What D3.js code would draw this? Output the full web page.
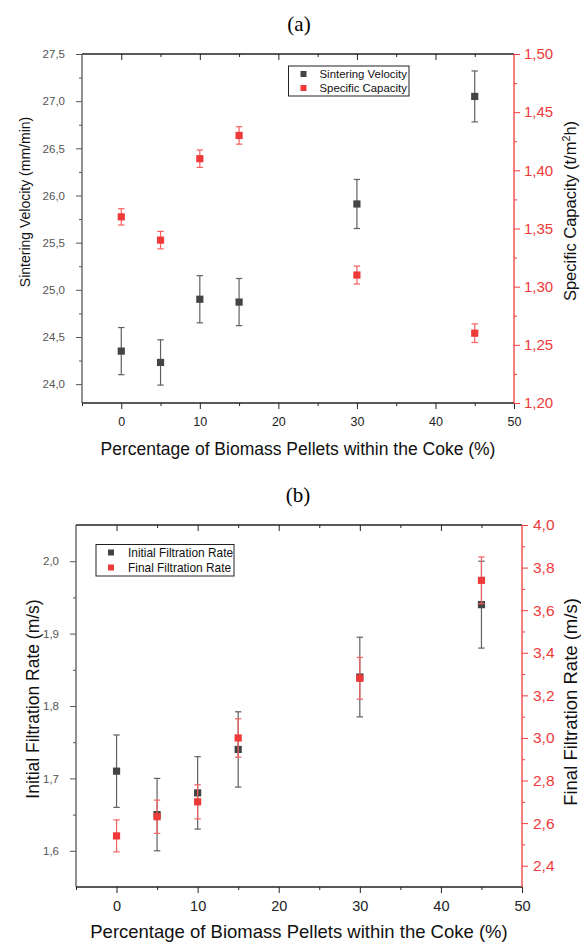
<!DOCTYPE html>
<html>
<head>
<meta charset="utf-8">
<script src="https://cdn.jsdelivr.net/npm/d3@7"></script>
<style>
  body { margin: 0; background: #fff; }
  svg { display: block; font-family: "Liberation Sans", Arial, sans-serif; }
</style>
</head>
<body>
<svg id="chart" width="581" height="943"></svg>
<script>
// Data
var pellets = [0, 5, 10, 15, 30, 45]

var sinterVel = [24.35, 24.23, 24.90, 24.87, 25.91, 27.05]
var sinterVelErr = [0.25, 0.24, 0.25, 0.25, 0.26, 0.27]
var specCap = [1.36, 1.34, 1.41, 1.43, 1.31, 1.26]
var specCapErr = [0.007, 0.0075, 0.0075, 0.0075, 0.0077, 0.008]

var initRate = [1.71, 1.65, 1.68, 1.74, 1.84, 1.94]
var initRateErr = [0.05, 0.05, 0.05, 0.052, 0.055, 0.06]
var finalRate = [2.54, 2.63, 2.70, 3.00, 3.28, 3.74]
var finalRateErr = [0.075, 0.078, 0.08, 0.09, 0.098, 0.11]

var xMajor = [0, 10, 20, 30, 40, 50]
var xMinor = [-5, 5, 15, 25, 35, 45]
var velTicks = [24.0, 24.5, 25.0, 25.5, 26.0, 26.5, 27.0, 27.5]
var capTicks = [1.20, 1.25, 1.30, 1.35, 1.40, 1.45, 1.50]
var initTicks = [1.6, 1.7, 1.8, 1.9, 2.0]
var finalTicks = [2.4, 2.6, 2.8, 3.0, 3.2, 3.4, 3.6, 3.8, 4.0]

var xTitle = "Percentage of Biomass Pellets within the Coke (%)"

// colours
var dark = "#444444"
var darkErr = "#606060"
var red = "#ef3a3a"
var redErr = "#f56060"
var redAxis = "#f23c3c"

var svg = d3.select("#chart")

function comma(fmt) {
  var f = d3.format(fmt)
  return function(d) { return f(d).replace(".", ",") }
}

function minorsBetween(ticks, n) {
  var out = []
  for (var i = 0; i < ticks.length - 1; i++) {
    var step = (ticks[i + 1] - ticks[i]) / n
    for (var k = 1; k < n; k++) out.push(ticks[i] + k * step)
  }
  return out
}

function drawPanel(p) {
  var g = svg.append("g")
  var x = d3.scaleLinear().domain([-5, 50]).range([p.left, p.right])
  var yL = d3.scaleLinear().domain(p.yLDomain).range([p.bottom, p.top])
  var yR = d3.scaleLinear().domain(p.yRDomain).range([p.bottom, p.top])

  // panel title
  g.append("text")
    .attr("x", p.titleX).attr("y", p.titleY)
    .attr("text-anchor", "middle")
    .style("font-family", "'Liberation Serif', 'Times New Roman', serif")
    .style("font-size", "21px")
    .text(p.title)

  // top frame with inward ticks
  var topAx = g.append("g").attr("transform", "translate(0," + p.top + ")")
  topAx.call(d3.axisTop(x).tickValues(xMajor.slice(0, 5)).tickSize(-6).tickFormat(""))
  topAx.append("g").call(d3.axisTop(x).tickValues(xMinor.slice(1)).tickSize(-3).tickFormat(""))
  topAx.selectAll("path").remove()
  topAx.selectAll("line").attr("stroke", "#222")
  g.append("line")
    .attr("x1", p.left).attr("x2", p.right)
    .attr("y1", p.top).attr("y2", p.top)
    .attr("stroke", "#222").attr("stroke-width", 1.3)

  // bottom axis
  var bot = g.append("g").attr("transform", "translate(0," + p.bottom + ")")
  bot.call(d3.axisBottom(x).tickValues(xMajor).tickSize(6).tickPadding(p.xPad).tickFormat(d3.format("d")))
  bot.append("g").call(d3.axisBottom(x).tickValues(xMinor).tickSize(3).tickFormat(""))
  bot.selectAll("path").remove()
  bot.selectAll("line").attr("stroke", "#222")
  bot.selectAll("text").style("font-size", p.xFont + "px").attr("fill", "#222")
  g.append("line")
    .attr("x1", p.left).attr("x2", p.right)
    .attr("y1", p.bottom).attr("y2", p.bottom)
    .attr("stroke", "#222").attr("stroke-width", 1.3)

  // left axis
  var la = g.append("g").attr("transform", "translate(" + p.left + ",0)")
  la.call(d3.axisLeft(yL).tickValues(p.yLTicks).tickSize(6).tickPadding(p.yLPad).tickFormat(comma(p.yLFmt)))
  la.append("g").call(d3.axisLeft(yL).tickValues(p.yLMinor).tickSize(3).tickFormat(""))
  la.selectAll("path").remove()
  la.selectAll("line").attr("stroke", "#555")
  la.selectAll("text").style("font-size", p.yLFont + "px").attr("fill", "#555")
  g.append("line")
    .attr("x1", p.left).attr("x2", p.left)
    .attr("y1", p.top).attr("y2", p.bottom)
    .attr("stroke", "#555").attr("stroke-width", 1.3)

  // right axis (red)
  var ra = g.append("g").attr("transform", "translate(" + p.right + ",0)")
  ra.call(d3.axisRight(yR).tickValues(p.yRTicks).tickSize(6).tickPadding(p.yRPad).tickFormat(comma(p.yRFmt)))
  ra.append("g").call(d3.axisRight(yR).tickValues(p.yRMinor).tickSize(3).tickFormat(""))
  ra.selectAll("path").remove()
  ra.selectAll("line").attr("stroke", redAxis)
  ra.selectAll("text").style("font-size", p.yRFont + "px").attr("fill", red)
  g.append("line")
    .attr("x1", p.right).attr("x2", p.right)
    .attr("y1", p.top).attr("y2", p.bottom)
    .attr("stroke", redAxis).attr("stroke-width", 1.3)

  // axis titles
  g.append("text")
    .attr("x", (p.left + p.right) / 2).attr("y", p.xTitleY)
    .attr("text-anchor", "middle")
    .style("font-size", p.xTitleFont + "px")
    .attr("fill", "#111")
    .text(xTitle)

  g.append("text")
    .attr("transform", "translate(" + p.yLTitleX + "," + p.yLTitleY + ") rotate(-90)")
    .attr("text-anchor", "middle")
    .style("font-size", p.yLTitleFont + "px")
    .attr("fill", "#111")
    .text(p.yLTitle)

  var rt = g.append("text")
    .attr("transform", "translate(" + p.yRTitleX + "," + p.yRTitleY + ") rotate(-90)")
    .attr("text-anchor", "middle")
    .style("font-size", p.yRTitleFont + "px")
    .attr("fill", "#111")
  p.yRTitle.forEach(function(part) {
    var t = rt.append("tspan").text(part.t)
    if (part.sup) t.attr("dy", -6).style("font-size", (p.yRTitleFont * 0.65) + "px")
    if (part.after) t.attr("dy", 6)
  })

  // series
  function series(vals, errs, scale, col, errCol) {
    var s = g.append("g")
    var cap = 3.2
    pellets.forEach(function(px, i) {
      var cx = x(px)
      var y1 = scale(vals[i] + errs[i]), y0 = scale(vals[i] - errs[i])
      s.append("line").attr("x1", cx).attr("x2", cx).attr("y1", y1).attr("y2", y0)
        .attr("stroke", errCol).attr("stroke-width", 1.2)
      s.append("line").attr("x1", cx - cap).attr("x2", cx + cap).attr("y1", y1).attr("y2", y1)
        .attr("stroke", errCol).attr("stroke-width", 1.2)
      s.append("line").attr("x1", cx - cap).attr("x2", cx + cap).attr("y1", y0).attr("y2", y0)
        .attr("stroke", errCol).attr("stroke-width", 1.2)
    })
    s.selectAll("rect.m").data(pellets).enter().append("rect")
      .attr("x", function(d) { return x(d) - 3.6 })
      .attr("y", function(d, i) { return scale(vals[i]) - 3.6 })
      .attr("width", 7.2).attr("height", 7.2)
      .attr("fill", col)
  }
  series(p.leftVals, p.leftErr, yL, dark, darkErr)
  series(p.rightVals, p.rightErr, yR, red, redErr)

  // legend
  var lg = g.append("g")
  lg.append("rect")
    .attr("x", p.legX).attr("y", p.legY)
    .attr("width", p.legW).attr("height", p.legH)
    .attr("fill", "#fff").attr("stroke", "#222").attr("stroke-width", 1)
  p.legend.forEach(function(name, i) {
    var cy = p.legY + p.legRow0 + i * p.legRowH
    lg.append("rect")
      .attr("x", p.legX + p.legMark - 3).attr("y", cy - 3)
      .attr("width", 6).attr("height", 6)
      .attr("fill", i == 0 ? dark : red)
    lg.append("text")
      .attr("x", p.legX + p.legText).attr("y", cy + 4)
      .style("font-size", p.legFont + "px")
      .attr("fill", "#111")
      .text(name)
  })
}

drawPanel({
  title: "(a)", titleX: 299, titleY: 31,
  left: 82, right: 514, top: 54, bottom: 403,
  yLDomain: [23.8, 27.5], yRDomain: [1.20, 1.50],
  yLTicks: velTicks, yLMinor: minorsBetween(velTicks, 2), yLFmt: ".1f",
  yRTicks: capTicks, yRMinor: minorsBetween(capTicks, 2), yRFmt: ".2f",
  xPad: 8, xFont: 12.5, yLPad: 11, yLFont: 11.5, yRPad: 4, yRFont: 15,
  xTitleY: 455, xTitleFont: 17.5,
  yLTitle: "Sintering Velocity (mm/min)", yLTitleX: 30, yLTitleY: 202, yLTitleFont: 14,
  yRTitle: [{t: "Specific Capacity (t/m"}, {t: "2", sup: true}, {t: "h)", after: true}],
  yRTitleX: 576, yRTitleY: 211, yRTitleFont: 16.5,
  leftVals: sinterVel, leftErr: sinterVelErr, rightVals: specCap, rightErr: specCapErr,
  legend: ["Sintering Velocity", "Specific Capacity"],
  legX: 288.5, legY: 66, legW: 120.5, legH: 30, legRow0: 8, legRowH: 14,
  legMark: 15, legText: 31, legFont: 11.4
})

drawPanel({
  title: "(b)", titleX: 298, titleY: 502,
  left: 76, right: 522, top: 525, bottom: 887,
  yLDomain: [1.55, 2.05], yRDomain: [2.3, 4.0],
  yLTicks: initTicks, yLMinor: minorsBetween(initTicks, 2), yLFmt: ".1f",
  yRTicks: finalTicks, yRMinor: minorsBetween(finalTicks, 2), yRFmt: ".1f",
  xPad: 8, xFont: 14.5, yLPad: 11, yLFont: 11.5, yRPad: 5, yRFont: 15.5,
  xTitleY: 938, xTitleFont: 18.5,
  yLTitle: "Initial Filtration Rate (m/s)", yLTitleX: 39, yLTitleY: 699, yLTitleFont: 17.5,
  yRTitle: [{t: "Final Filtration Rate (m/s)"}],
  yRTitleX: 577, yRTitleY: 702, yRTitleFont: 18.5,
  leftVals: initRate, leftErr: initRateErr, rightVals: finalRate, rightErr: finalRateErr,
  legend: ["Initial Filtration Rate", "Final Filtration Rate"],
  legX: 96, legY: 544.5, legW: 138, legH: 31.5, legRow0: 8, legRowH: 15,
  legMark: 15, legText: 32, legFont: 11.9
})
</script>
</body>
</html>
